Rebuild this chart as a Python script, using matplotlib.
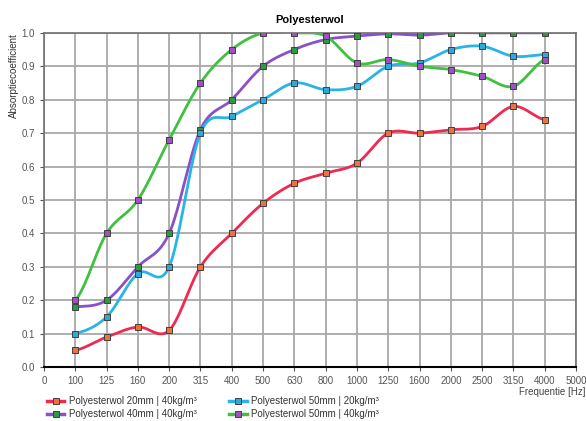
import numpy as np
import matplotlib
matplotlib.use("Agg")
import matplotlib.pyplot as plt

plt.rcParams['font.family'] = ['Liberation Sans', 'DejaVu Sans']

# frequenties (categorische as)
tick_labels = ['0', '100', '125', '160', '200', '315', '400', '500', '630', '800',
               '1000', '1250', '1600', '2000', '2500', '3150', '4000', '5000']
freqs = tick_labels[1:-1]

pw_20mm_40kg = [0.05, 0.09, 0.12, 0.11, 0.30, 0.40, 0.49, 0.55, 0.58, 0.61,
                0.70, 0.70, 0.71, 0.72, 0.78, 0.74]
pw_50mm_20kg = [0.10, 0.15, 0.28, 0.30, 0.70, 0.75, 0.80, 0.85, 0.83, 0.84,
                0.90, 0.91, 0.95, 0.96, 0.93, 0.935]
pw_40mm_40kg = [0.18, 0.20, 0.30, 0.40, 0.71, 0.80, 0.90, 0.95, 0.98, 0.99,
                0.997, 0.993, 1.0, 1.0, 1.0, 1.0]
pw_50mm_40kg = [0.20, 0.40, 0.50, 0.68, 0.85, 0.95, 1.0, 1.0, 0.99, 0.91,
                0.92, 0.90, 0.89, 0.87, 0.84, 0.92]

series = [
    ('Polyesterwol 20mm | 40kg/m³', pw_20mm_40kg, '#ee2a50', '#f07040'),
    ('Polyesterwol 40mm | 40kg/m³', pw_40mm_40kg, '#8a50c8', '#2e9a40'),
    ('Polyesterwol 50mm | 20kg/m³', pw_50mm_20kg, '#28b4e4', '#30a8d8'),
    ('Polyesterwol 50mm | 40kg/m³', pw_50mm_40kg, '#40c040', '#a050c0'),
]


def smooth(x, y, n=20):
    # catmull-rom spline door de punten, alleen voor de weergave
    x = np.asarray(x, float)
    y = np.asarray(y, float)
    xs, ys = [], []
    for i in range(len(x) - 1):
        y0 = y[i - 1] if i > 0 else y[i]
        y3 = y[i + 2] if i + 2 < len(y) else y[i + 1]
        m1 = (y[i + 1] - y0) / 2
        m2 = (y3 - y[i]) / 2
        t = np.linspace(0, 1, n, endpoint=False)
        h00 = 2 * t**3 - 3 * t**2 + 1
        h10 = t**3 - 2 * t**2 + t
        h01 = -2 * t**3 + 3 * t**2
        h11 = t**3 - t**2
        xs.append(x[i] + t * (x[i + 1] - x[i]))
        ys.append(h00 * y[i] + h10 * m1 + h01 * y[i + 1] + h11 * m2)
    xs.append([x[-1]])
    ys.append([y[-1]])
    return np.concatenate(xs), np.concatenate(ys)


fig = plt.figure(figsize=(5.86, 4.21), dpi=100)
ax = fig.add_axes([0.075, 0.128, 0.908, 0.794])

xpos = np.arange(1, len(freqs) + 1)
for label, vals, lc, mc in series:
    sx, sy = smooth(xpos, vals)
    ax.plot(sx, sy, color=lc, lw=2.0, zorder=3)
    ax.plot(xpos, vals, ls='none', marker='s', ms=4.5, mfc=mc, mec='#404040',
            mew=0.7, zorder=4)
    ax.plot([], [], color=lc, lw=2.5, marker='s', ms=4.5, mfc=mc,
            mec='#404040', mew=0.7, label=label)

ax.set_xlim(0, len(tick_labels) - 1)
ax.set_ylim(0, 1.0)
ax.set_xticks(np.arange(len(tick_labels)))
ax.set_xticklabels(tick_labels)
ax.set_yticks(np.arange(0, 1.01, 0.1))
ax.set_yticklabels([f'{v:.1f}' for v in np.arange(0, 1.01, 0.1)])
ax.tick_params(labelsize=7, colors='#555555', length=3, width=0.8)
ax.grid(True, color='#a8a8a8', lw=1.3)
ax.set_axisbelow(True)
for s in ['top', 'right', 'left']:
    ax.spines[s].set_color('#707070')
    ax.spines[s].set_linewidth(1.2)
ax.spines['bottom'].set_color('black')
ax.spines['bottom'].set_linewidth(1.5)

ax.set_title('Polyesterwol', fontsize=8, fontweight='bold', pad=7)
ax.set_ylabel('Absorptiecoefficient', fontsize=7, color='#333333', loc='top')
ax.yaxis.set_label_coords(-0.047, 1.0)
fig.text(0.999, 0.068, 'Frequentie [Hz]', fontsize=7, color='#444444',
         ha='right', va='center')

fig.legend(loc='lower left', bbox_to_anchor=(0.065, -0.016), ncol=2, fontsize=7,
           frameon=False, handlelength=1.8, columnspacing=3.3, labelspacing=0.3,
           handletextpad=0.5, labelcolor='#333333')

fig.savefig('out.png', dpi=100)
